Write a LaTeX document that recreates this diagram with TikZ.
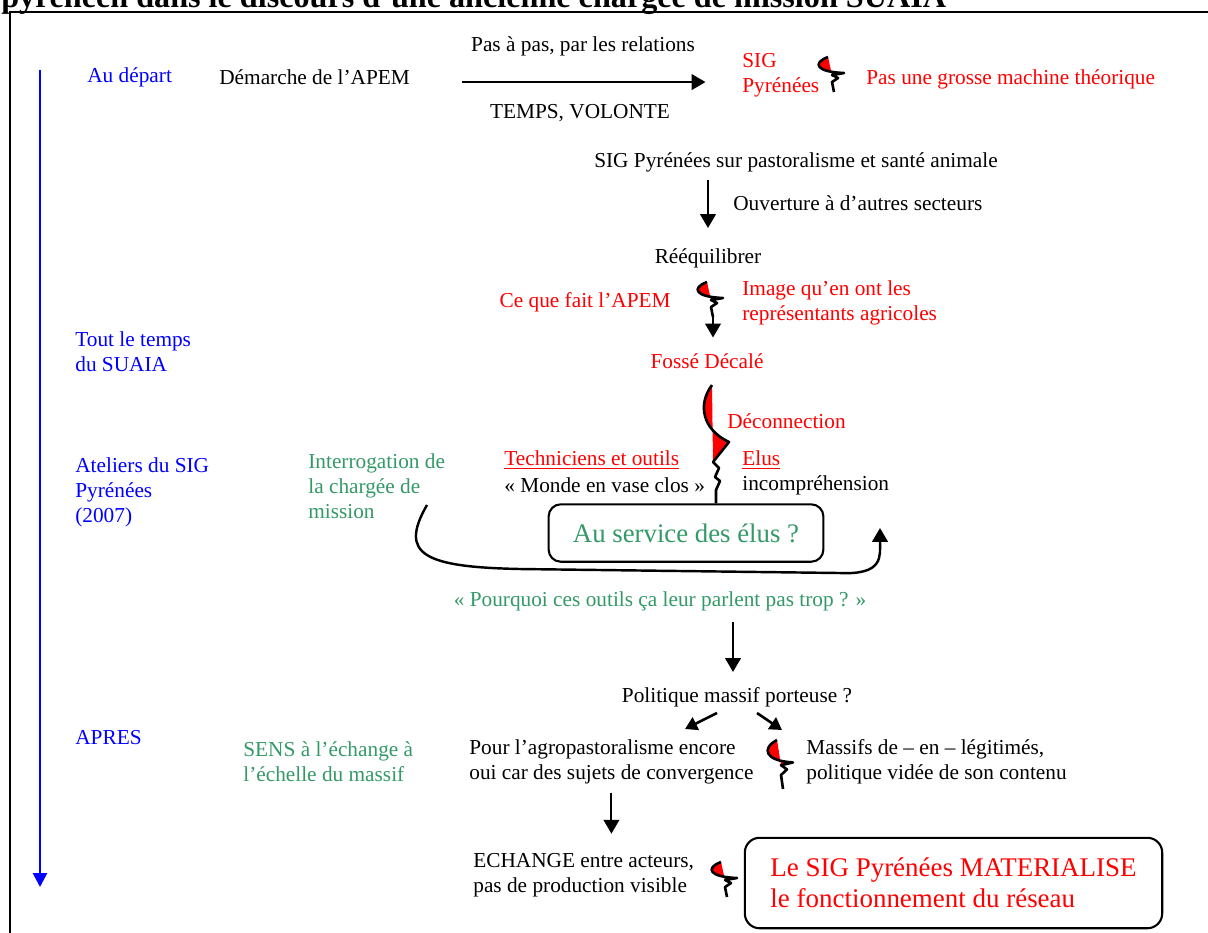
\documentclass[tikz,border=0pt]{standalone}
\usepackage{fontspec}
\setmainfont{Liberation Serif}
\usetikzlibrary{
    arrows.meta,
    positioning
}
\definecolor{SeaGreen}{RGB}{51,153,102}
\tikzset{
  arr/.style   = {-{Triangle[width=9pt,length=8pt]}, line width=1.2pt},
  sarr/.style  = {-{Triangle[width=8pt,length=7pt]}, line width=1.5pt},
  tarr/.style  = {-{Triangle[width=8pt,length=8pt]}, line width=1.5pt, blue},
  bolt/.style  = {line width=1.5pt, line join=round},
  eclair/.pic  = {
    \fill[red] (0,0) .. controls (-16,6) and (-12,15) .. (16,16) -- (4,18) -- cycle;
    \draw[bolt] (0,0) .. controls (-16,6) and (-12,15) .. (16,16)
        -- (4,18) -- (10,21) -- (4,25) -- (6,35);
    \coordinate (-bas) at (6,35);
  }
}

\begin{document}
\begin{tikzpicture}[
    x=0.575pt, y=-0.575pt,
    lbl/.style={inner sep=0pt, align=left, font=\fontsize{12.25}{14.4}\selectfont},
    bleu/.style={lbl, text=blue},
    rouge/.style={lbl, text=red},
    vert/.style={lbl, text=SeaGreen},
    titre/.style={inner sep=0pt, font=\fontsize{18.5}{22}\selectfont\bfseries},
    boite/.style={draw, line width=1.2pt, inner sep=0pt, align=left}
  ]
    \useasboundingbox (0,0) rectangle (1208,932);
    \clip (0,0) rectangle (1208,932);

    % titre coupe et cadre
    \node[titre, anchor=base west] (titre) at (1,7)
        {pyrénéen dans le discours d’une ancienne chargée de mission SUAIA};
    \draw[line width=1.2pt] (1230,12) -- (10,12) -- (10,960);

    % axe du temps
    \coordinate (t0) at (40,70);
    \coordinate (t1) at (40,887);
    \draw[tarr] (t0) -- (t1);
    \node[bleu, anchor=west] (depart) at (87,77) {Au départ};
    \node[bleu, anchor=west] (tout) at (75,352) {Tout le temps\\du SUAIA};
    \node[bleu, anchor=west] (ateliers) at (75,492) {Ateliers du SIG\\Pyrénées\\(2007)};
    \node[bleu, anchor=west] (apres) at (75,738) {APRES};

    % au depart
    \node[lbl, anchor=west] (apem) at (219,77) {Démarche de l’APEM};
    \node[rouge, anchor=west] (sig) at (742,75) {SIG\\Pyrénées};
    \node[rouge, anchor=west] (machine) at (866,79) {Pas une grosse machine théorique};
    \pic at (828,57) {eclair};
    \draw[arr, shorten <=30pt, shorten >=21pt]
        ([yshift=-2.9pt]apem.east) -- ([yshift=-2.9pt]apem.east -| sig.west);
    \node[lbl] (pas) at (583,46) {Pas à pas, par les relations};
    \node[lbl] (temps) at (580,113) {TEMPS, VOLONTE};

    \node[lbl] (sigpyr) at (796,162) {SIG Pyrénées sur pastoralisme et santé animale};
    \node[lbl] (reeq) at (708,258) {Rééquilibrer};
    \draw[arr, shorten <=4.5pt, shorten >=11.5pt] (reeq |- sigpyr.south) -- (reeq.north);
    \node[lbl, anchor=west] (ouv) at (733,203) {Ouverture à d’autres secteurs};

    % tout le temps
    \node[rouge, anchor=east] (cqf) at (671,302) {Ce que fait l’APEM};
    \node[rouge, anchor=west] (image) at (742,303) {Image qu’en ont les\\représentants agricoles};
    \node[rouge] (fosse) at (707,361) {Fossé Décalé};
    \pic (e2) at (707,282) {eclair};
    \draw[arr, shorten >=9pt] (e2-bas) -- (e2-bas |- fosse.north);

    % ateliers
    \node[rouge, anchor=west] (decon) at (727,421) {Déconnection};
    \node[rouge, anchor=west] (tech) at (504,460) {\underline{Techniciens et outils}};
    \node[lbl, anchor=west] (monde) at (504,485) {« Monde en vase clos »};
    \node[rouge, anchor=west] (elus) at (742,460) {\underline{Elus}};
    \node[lbl, anchor=west] (incomp) at (742,485) {incompréhension};
    \node[vert, anchor=west] (interro) at (308,486) {Interrogation de\\la chargée de\\mission};
    \node[boite, rounded corners=7pt, text=SeaGreen, align=center,
          font=\fontsize{15.4}{18}\selectfont,
          minimum width=158pt, minimum height=33pt] (service) at (686,533) {Au service des élus ?};

    \fill[red] (712,385) .. controls (697,405) and (703,430) .. (729,442) -- (713,462) -- cycle;
    \coordinate (bb) at (716,490);
    \draw[bolt] (712,385) .. controls (697,405) and (703,430) .. (729,442)
        -- (713,462) -- (719,468) -- (715,477) -- (720,481) -- (bb) -- (bb |- service.north);

    \coordinate (c0) at (427,505);
    \coordinate (c1) at (880,528);
    \draw[arr, line width=1.4pt] (c0) .. controls (398,555) and (425,567) .. (520,569)
        -- (840,573) .. controls (884,575) and (880,556) .. (c1);
    \node[vert] (pourquoi) at (660,601) {« Pourquoi ces outils ça leur parlent pas trop ? »};

    % apres
    \node[lbl] (politique) at (737,697) {Politique massif porteuse ?};
    \draw[arr, shorten <=6.3pt, shorten >=8.6pt]
        ([xshift=-2.3pt]politique.north |- pourquoi.south) -- ([xshift=-2.3pt]politique.north);
    \draw[sarr] ([shift={(-20,16)}]politique.center) -- ([shift={(-52,32)}]politique.center);
    \draw[sarr] ([shift={(20,16)}]politique.center) -- ([shift={(45,33)}]politique.center);

    \node[vert, anchor=west] (sens) at (243,762) {SENS à l’échange à\\l’échelle du massif};
    \node[lbl, anchor=west] (pour) at (469,762) {Pour l’agropastoralisme encore\\oui car des sujets de convergence};
    \node[lbl, anchor=west] (massifs) at (806,762) {Massifs de – en – légitimés,\\politique vidée de son contenu};
    \pic[yscale=1.4] at (777,740) {eclair};

    \node[lbl, anchor=west] (echange) at (473,875) {ECHANGE entre acteurs,\\pas de production visible};
    \pic at (721,862) {eclair};
    \draw[arr, shorten <=4.6pt, shorten >=11pt] (pour.south) -- (pour.south |- echange.north);
    \node[boite, rounded corners=8.5pt, text=red, minimum width=240pt,
          font=\fontsize{15.5}{18}\selectfont,
          minimum height=52pt] (mat) at (953.5,883)
        {Le SIG Pyrénées MATERIALISE\\le fonctionnement du réseau};
\end{tikzpicture}
\end{document}
